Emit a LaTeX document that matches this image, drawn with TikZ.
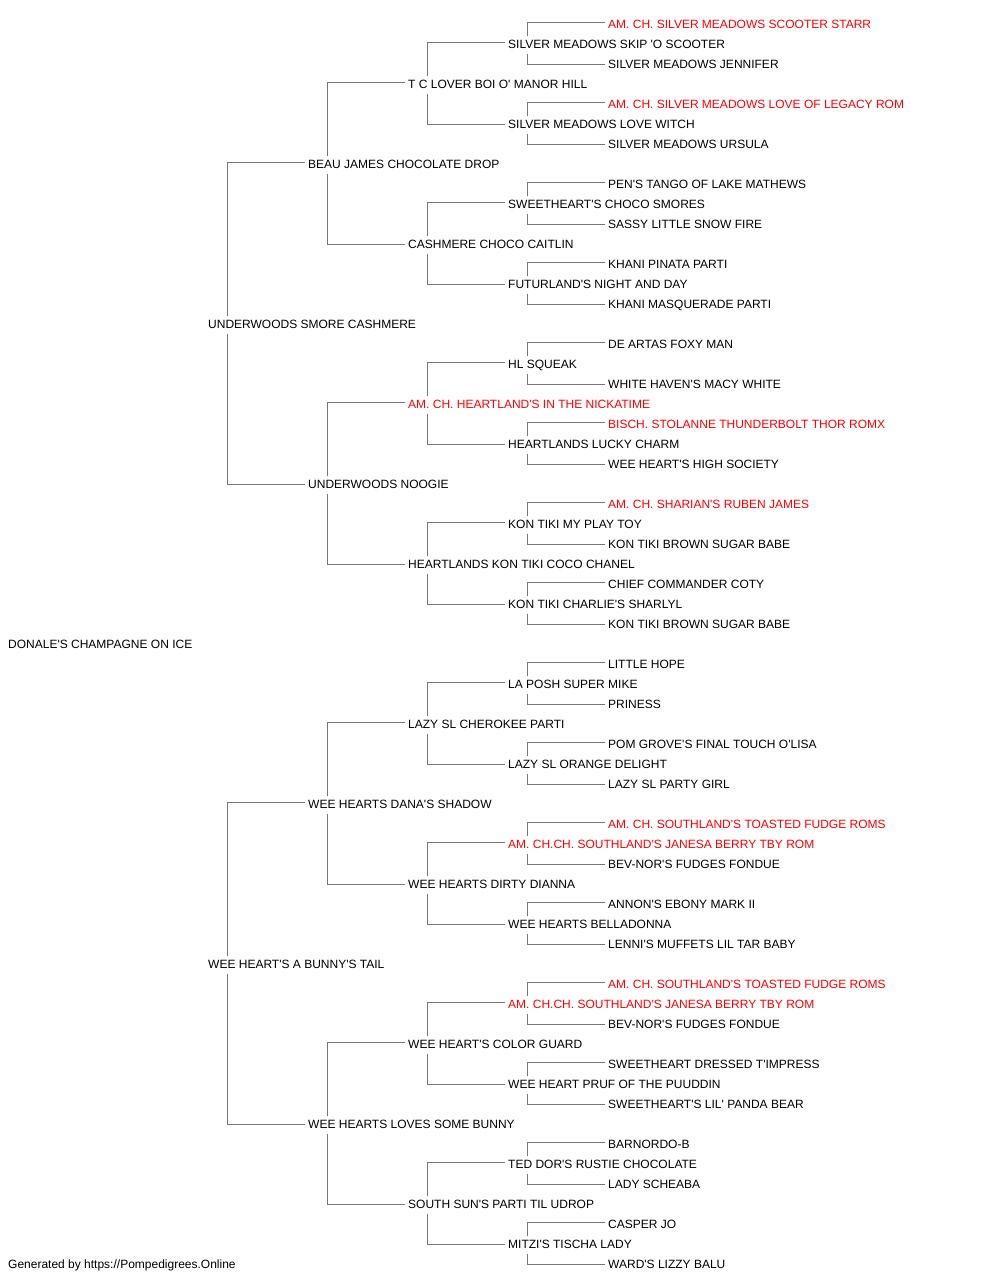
\documentclass[tikz,border=0pt]{standalone}
\usepackage{fontspec}
\setmainfont{Liberation Sans}[Ligatures=TeXOff]
\usepackage{tikz}
\definecolor{pedline}{HTML}{777777}
\definecolor{champ}{HTML}{FF0000}
\tikzset{dog/.style={anchor=west, xshift=-3.5pt, yshift=-1pt,
                     inner xsep=3.5pt, inner ysep=2.8pt,
                     text height=9pt, text depth=2.4pt,
                     font=\fontsize{12pt}{14pt}\selectfont},
         ch/.style={dog, text=champ},
         link/.style={draw=pedline, line width=1.25pt}}

\begin{document}
\begin{tikzpicture}[x=1pt, y=-1pt]
\useasboundingbox (0,0) rectangle (1000,1280);
\node (d) [dog] at (8,644) {DONALE'S CHAMPAGNE ON ICE};
\node (ds) [dog] at (208,324) {UNDERWOODS SMORE CASHMERE};
\node (dd) [dog] at (208,964) {WEE HEART'S A BUNNY'S TAIL};
\node (dss) [dog] at (308,164) {BEAU JAMES CHOCOLATE DROP};
\node (dsd) [dog] at (308,484) {UNDERWOODS NOOGIE};
\node (dds) [dog] at (308,804) {WEE HEARTS DANA'S SHADOW};
\node (ddd) [dog] at (308,1124) {WEE HEARTS LOVES SOME BUNNY};
\node (dsss) [dog] at (408,84) {T C LOVER BOI O' MANOR HILL};
\node (dssd) [dog] at (408,244) {CASHMERE CHOCO CAITLIN};
\node (dsds) [ch] at (408,404) {AM. CH. HEARTLAND'S IN THE NICKATIME};
\node (dsdd) [dog] at (408,564) {HEARTLANDS KON TIKI COCO CHANEL};
\node (ddss) [dog] at (408,724) {LAZY SL CHEROKEE PARTI};
\node (ddsd) [dog] at (408,884) {WEE HEARTS DIRTY DIANNA};
\node (ddds) [dog] at (408,1044) {WEE HEART'S COLOR GUARD};
\node (dddd) [dog] at (408,1204) {SOUTH SUN'S PARTI TIL UDROP};
\node (dssss) [dog] at (508,44) {SILVER MEADOWS SKIP 'O SCOOTER};
\node (dsssd) [dog] at (508,124) {SILVER MEADOWS LOVE WITCH};
\node (dssds) [dog] at (508,204) {SWEETHEART'S CHOCO SMORES};
\node (dssdd) [dog] at (508,284) {FUTURLAND'S NIGHT AND DAY};
\node (dsdss) [dog] at (508,364) {HL SQUEAK};
\node (dsdsd) [dog] at (508,444) {HEARTLANDS LUCKY CHARM};
\node (dsdds) [dog] at (508,524) {KON TIKI MY PLAY TOY};
\node (dsddd) [dog] at (508,604) {KON TIKI CHARLIE'S SHARLYL};
\node (ddsss) [dog] at (508,684) {LA POSH SUPER MIKE};
\node (ddssd) [dog] at (508,764) {LAZY SL ORANGE DELIGHT};
\node (ddsds) [ch] at (508,844) {AM. CH.CH. SOUTHLAND'S JANESA BERRY TBY ROM};
\node (ddsdd) [dog] at (508,924) {WEE HEARTS BELLADONNA};
\node (dddss) [ch] at (508,1004) {AM. CH.CH. SOUTHLAND'S JANESA BERRY TBY ROM};
\node (dddsd) [dog] at (508,1084) {WEE HEART PRUF OF THE PUUDDIN};
\node (dddds) [dog] at (508,1164) {TED DOR'S RUSTIE CHOCOLATE};
\node (ddddd) [dog] at (508,1244) {MITZI'S TISCHA LADY};
% great-great-grandparents
\node (dsssss) [ch] at (608,24) {AM. CH. SILVER MEADOWS SCOOTER STARR};
\node (dssssd) [dog] at (608,64) {SILVER MEADOWS JENNIFER};
\node (dsssds) [ch] at (608,104) {AM. CH. SILVER MEADOWS LOVE OF LEGACY ROM};
\node (dsssdd) [dog] at (608,144) {SILVER MEADOWS URSULA};
\node (dssdss) [dog] at (608,184) {PEN'S TANGO OF LAKE MATHEWS};
\node (dssdsd) [dog] at (608,224) {SASSY LITTLE SNOW FIRE};
\node (dssdds) [dog] at (608,264) {KHANI PINATA PARTI};
\node (dssddd) [dog] at (608,304) {KHANI MASQUERADE PARTI};
\node (dsdsss) [dog] at (608,344) {DE ARTAS FOXY MAN};
\node (dsdssd) [dog] at (608,384) {WHITE HAVEN'S MACY WHITE};
\node (dsdsds) [ch] at (608,424) {BISCH. STOLANNE THUNDERBOLT THOR ROMX};
\node (dsdsdd) [dog] at (608,464) {WEE HEART'S HIGH SOCIETY};
\node (dsddss) [ch] at (608,504) {AM. CH. SHARIAN'S RUBEN JAMES};
\node (dsddsd) [dog] at (608,544) {KON TIKI BROWN SUGAR BABE};
\node (dsddds) [dog] at (608,584) {CHIEF COMMANDER COTY};
\node (dsdddd) [dog] at (608,624) {KON TIKI BROWN SUGAR BABE};
\node (ddssss) [dog] at (608,664) {LITTLE HOPE};
\node (ddsssd) [dog] at (608,704) {PRINESS};
\node (ddssds) [dog] at (608,744) {POM GROVE'S FINAL TOUCH O'LISA};
\node (ddssdd) [dog] at (608,784) {LAZY SL PARTY GIRL};
\node (ddsdss) [ch] at (608,824) {AM. CH. SOUTHLAND'S TOASTED FUDGE ROMS};
\node (ddsdsd) [dog] at (608,864) {BEV-NOR'S FUDGES FONDUE};
\node (ddsdds) [dog] at (608,904) {ANNON'S EBONY MARK II};
\node (ddsddd) [dog] at (608,944) {LENNI'S MUFFETS LIL TAR BABY};
\node (dddsss) [ch] at (608,984) {AM. CH. SOUTHLAND'S TOASTED FUDGE ROMS};
\node (dddssd) [dog] at (608,1024) {BEV-NOR'S FUDGES FONDUE};
\node (dddsds) [dog] at (608,1064) {SWEETHEART DRESSED T'IMPRESS};
\node (dddsdd) [dog] at (608,1104) {SWEETHEART'S LIL' PANDA BEAR};
\node (ddddss) [dog] at (608,1144) {BARNORDO-B};
\node (ddddsd) [dog] at (608,1184) {LADY SCHEABA};
\node (ddddds) [dog] at (608,1224) {CASPER JO};
\node (dddddd) [dog] at (608,1264) {WARD'S LIZZY BALU};
\node (footer) [dog] at (8,1264) {Generated by https://Pompedigrees.Online};
% sire up, dam down
\foreach \p in {ds,dd,dss,dsd,dds,ddd,dsss,dssd,dsds,dsdd,ddss,ddsd,ddds,dddd,
                dssss,dsssd,dssds,dssdd,dsdss,dsdsd,dsdds,dsddd,
                ddsss,ddssd,ddsds,ddsdd,dddss,dddsd,dddds,ddddd} {
    \draw [link] ([xshift=23pt]\p.north west) |- ([yshift=2.5pt]\p s.west);
    \draw [link] ([xshift=23pt]\p.south west) |- ([yshift=0.5pt]\p d.west);
}
\end{tikzpicture}
\end{document}
